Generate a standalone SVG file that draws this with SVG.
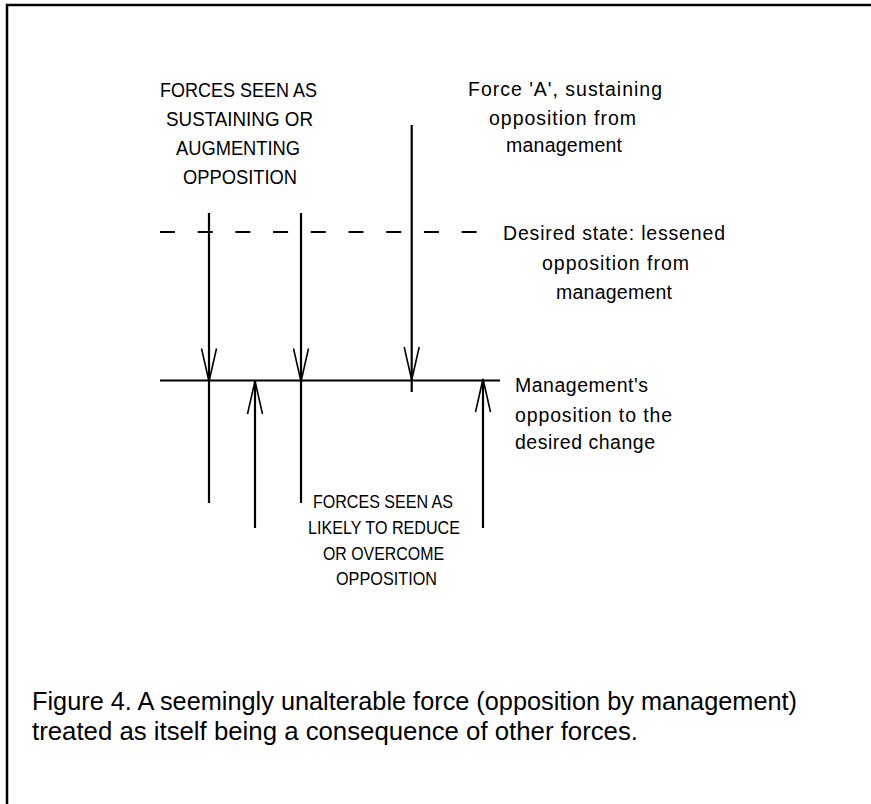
<svg xmlns="http://www.w3.org/2000/svg" width="871" height="804" viewBox="0 0 871 804">
<style>
  text { font-family: "Liberation Sans", Arial, sans-serif; fill: #000; }
  .cap { font-size: 20px; }
  .lbl { font-size: 19.5px; }
  .small { font-size: 18.5px; }
  .caption { font-size: 25px; }
  .ln { stroke: #000; stroke-width: 2.2; fill: none; }
  .dash { stroke: #000; stroke-width: 2; fill: none; stroke-dasharray: 15 22.7; }
</style>
<defs>
  <marker id="vhead" markerUnits="userSpaceOnUse" viewBox="-40 -10 45 20" markerWidth="45" markerHeight="20" refX="0" refY="0" orient="auto" overflow="visible">
    <path d="M-33,-7.5 L0,0 L-33,7.5" fill="none" stroke="#000" stroke-width="1.6"/>
  </marker>
</defs>
<rect x="0" y="0" width="871" height="804" fill="#fff"/>
<path d="M7,804 L7,5 L871,5" fill="none" stroke="#000" stroke-width="2.5"/>

<g id="connectors">
  <path class="dash" d="M160,232 L477,232"/>
  <path class="ln" d="M160,380.5 L500,380.5"/>
  <path class="ln" d="M209,213 L209,381.5 L209,503" marker-mid="url(#vhead)"/>
  <path class="ln" d="M301,213 L301,381.5 L301,503" marker-mid="url(#vhead)"/>
  <path class="ln" d="M411.7,125 L411.7,380 L411.7,392" marker-mid="url(#vhead)"/>
  <path class="ln" d="M255,528 L255,381" marker-end="url(#vhead)"/>
  <path class="ln" d="M483,528 L483,379" marker-end="url(#vhead)"/>
</g>

<g id="node-sustaining">
  <text class="cap" x="160" y="97" textLength="157" lengthAdjust="spacingAndGlyphs">FORCES SEEN AS</text>
  <text class="cap" x="166" y="126" textLength="147" lengthAdjust="spacingAndGlyphs">SUSTAINING OR</text>
  <text class="cap" x="176" y="155" textLength="124" lengthAdjust="spacingAndGlyphs">AUGMENTING</text>
  <text class="cap" x="183" y="184" textLength="114" lengthAdjust="spacingAndGlyphs">OPPOSITION</text>
</g>

<g id="node-force-a">
  <text class="lbl" x="468" y="96" textLength="194" lengthAdjust="spacing">Force  'A',  sustaining</text>
  <text class="lbl" x="489" y="125" textLength="147" lengthAdjust="spacing">opposition  from</text>
  <text class="lbl" x="506" y="152" textLength="116" lengthAdjust="spacing">management</text>
</g>

<g id="node-desired-state">
  <text class="lbl" x="503" y="240" textLength="222" lengthAdjust="spacing">Desired  state:  lessened</text>
  <text class="lbl" x="542" y="270" textLength="147" lengthAdjust="spacing">opposition  from</text>
  <text class="lbl" x="556" y="299" textLength="116" lengthAdjust="spacing">management</text>
</g>

<g id="node-management-opposition">
  <text class="lbl" x="515" y="392" textLength="133" lengthAdjust="spacing">Management's</text>
  <text class="lbl" x="515" y="421.5" textLength="157" lengthAdjust="spacing">opposition  to  the</text>
  <text class="lbl" x="515" y="449" textLength="140" lengthAdjust="spacing">desired  change</text>
</g>

<g id="node-reducing">
  <text class="small" x="313" y="508" textLength="140" lengthAdjust="spacingAndGlyphs">FORCES SEEN AS</text>
  <text class="small" x="308" y="533.5" textLength="152" lengthAdjust="spacingAndGlyphs">LIKELY TO REDUCE</text>
  <text class="small" x="323" y="559.5" textLength="121" lengthAdjust="spacingAndGlyphs">OR OVERCOME</text>
  <text class="small" x="336" y="585" textLength="101" lengthAdjust="spacingAndGlyphs">OPPOSITION</text>
</g>

<g id="caption">
  <text class="caption" x="32" y="710" textLength="765" lengthAdjust="spacingAndGlyphs">Figure 4. A seemingly unalterable force (opposition by management)</text>
  <text class="caption" x="32" y="740" textLength="606" lengthAdjust="spacingAndGlyphs">treated as itself being a consequence of other forces.</text>
</g>
</svg>
